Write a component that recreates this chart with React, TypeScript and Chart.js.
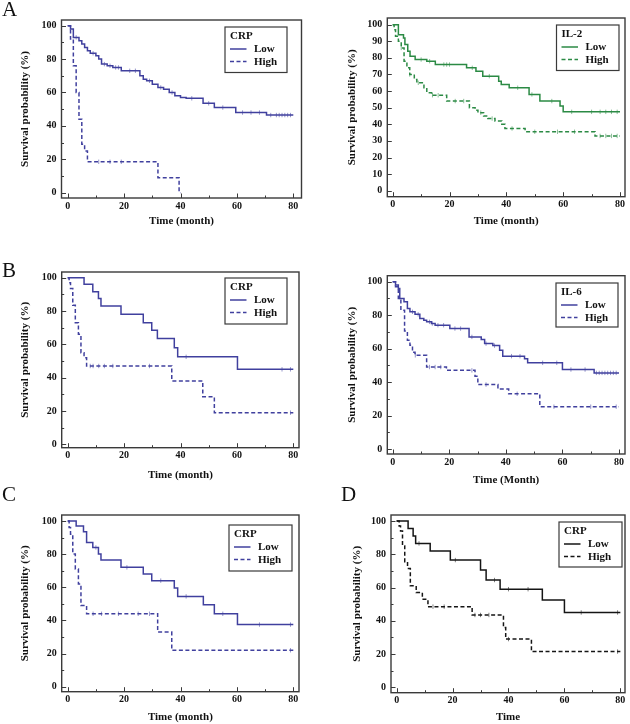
import { useEffect, useRef } from 'react';
import { Chart, registerables } from 'chart.js';

Chart.register(...registerables);

// ---------------- data ----------------
const xTickValues = [0, 20, 40, 60, 80];
const yTickValues = [0, 20, 40, 60, 80, 100];
const yTickValuesIL2 = [0, 10, 20, 30, 40, 50, 60, 70, 80, 90, 100];
const groupLabels = ['Low', 'High'];

// Panel A (left): CRP
const aCrpLowT = [0, 1, 2, 4, 5, 6, 7, 8, 10, 11, 12, 14, 16, 19, 25.6, 26.8, 28, 30, 32, 34, 36, 38, 40, 42, 48, 52, 59.6, 70.5, 80];
const aCrpLowS = [100, 98, 93, 91, 89, 87, 85, 83.5, 82, 80, 77, 76, 75, 73, 70, 68, 67, 65, 63, 62, 60, 58, 57, 56.5, 53.5, 51, 48, 46.5, 46.5];
const aCrpLowCens = [3, 9, 13, 15, 17, 18, 22, 24, 29, 33, 37, 44, 50, 55, 62, 65, 68, 72, 74, 75, 76, 77, 78, 79];
const aCrpHighT = [0, 1, 2, 3, 4, 5, 6, 7, 32, 39.5, 40];
const aCrpHighS = [100, 92, 76, 60, 44, 29, 25, 18.5, 9, 0, 0];
const aCrpHighCens = [11, 15, 19];

// Panel A (right): IL-2
const aIl2LowT = [0, 2, 3.8, 4.3, 5.3, 6.1, 7.9, 12, 15, 26, 29.3, 31.7, 37.3, 38.2, 41, 48, 51.8, 58.9, 60, 80];
const aIl2LowS = [100, 94, 92, 88, 84, 81, 79, 78, 76, 74, 72, 69, 66, 64, 62, 58, 54, 51, 47.5, 47.5];
const aIl2LowCens = [10, 13, 18, 19, 20, 28, 34, 44, 49, 56, 63, 70, 73, 75, 77, 79];
const aIl2HighT = [0, 0.5, 1, 2, 3, 4, 5, 6, 7.6, 8.5, 11, 12, 13.7, 19, 27, 29, 30, 32, 33.5, 36, 38.4, 39.5, 46.6, 71.2, 80];
const aIl2HighS = [100, 97, 93, 90, 86, 78, 74, 70, 67, 65, 62, 59, 57.5, 54, 50, 48.5, 47, 45, 43.5, 42, 40, 37.5, 35.5, 33, 33];
const aIl2HighCens = [3, 6, 9, 14, 16, 22, 25, 31, 35, 42, 50, 58, 64, 73, 75, 77, 79];

// Panel B (left): CRP
const bCrpLowT = [0, 5.8, 8.9, 10.9, 11.8, 18.9, 26.8, 29.8, 31.8, 37.8, 39, 60.2, 80];
const bCrpLowS = [100, 96, 91.5, 87.5, 83, 78, 73, 68.5, 63.5, 58, 52.5, 45, 45];
const bCrpLowCens = [42, 76, 79];
const bCrpHighT = [0, 0.5, 1, 1.8, 2.7, 3.8, 4.7, 5.8, 6.7, 36.9, 47.9, 52, 80];
const bCrpHighS = [100, 97, 93.5, 83.5, 73, 66, 55, 52, 47, 38, 28.5, 19, 19];
const bCrpHighCens = [8, 9, 11, 13, 16, 29, 79];

// Panel B (right): IL-6
const bIl6LowT = [0, 1, 2, 2.5, 4, 5.2, 6.1, 7.9, 9.6, 11, 12, 13.7, 15, 20.2, 27, 31.3, 32.5, 35.4, 37.8, 38.9, 46.6, 47.7, 60, 71.2, 80];
const bIl6LowS = [100, 98, 96, 90, 88, 84, 82, 80.5, 78, 77, 76, 75, 74, 72, 67, 65.5, 63, 61.8, 59, 55.5, 54, 51.5, 47.5, 45.5, 45.5];
const bIl6LowCens = [7, 9, 13, 14, 16, 18, 22, 24, 28, 33, 36, 42, 45, 53, 58, 63, 68, 72, 73, 74, 75, 76, 77, 78, 79];
const bIl6HighT = [0, 1, 2, 2.9, 4.2, 5.2, 6.1, 7, 7.9, 12, 19, 29.1, 30.1, 37.2, 41, 52, 80];
const bIl6HighS = [100, 97, 90, 83, 70.5, 65, 62, 57.8, 56, 49, 47, 43.5, 38.5, 35.8, 33, 25.3, 25.3];
const bIl6HighCens = [8, 13, 15, 17, 28, 33, 44, 57, 70, 79];

// Panel C: CRP
const cCrpLowT = [0, 3, 5.6, 6.7, 8.9, 10.9, 11.8, 18.9, 26.8, 29.8, 37.8, 39, 48.1, 52, 60.2, 80];
const cCrpLowS = [100, 97, 93.5, 87, 84, 80, 76.5, 72, 68, 64, 59.5, 54.5, 49.5, 44, 37.5, 37.5];
const cCrpLowCens = [10, 21, 33, 42, 55, 68, 79];
const cCrpHighT = [0, 0.5, 1, 1.8, 2.7, 3.8, 4.7, 6.7, 31.9, 36.9, 80];
const cCrpHighS = [100, 96, 92, 80, 71, 62, 49, 44, 33, 22, 22];
const cCrpHighCens = [9, 12, 18, 25, 29, 79];

// Panel D: CRP
const dCrpLowT = [0, 4.1, 5.9, 6.8, 12, 19.2, 30, 32, 37, 52.1, 60, 80];
const dCrpLowS = [100, 95.5, 91, 86.5, 82, 76.5, 70.5, 64.5, 59, 52.5, 45, 45];
const dCrpLowCens = [8, 21, 35, 40, 47, 66, 79];
const dCrpHighT = [0, 0.9, 1.4, 2.1, 2.9, 3.9, 4.9, 7, 9.2, 11.2, 27, 38.2, 39, 48.2, 80];
const dCrpHighS = [100, 97, 94, 85, 75.5, 71.5, 61, 57, 53, 48.5, 43.5, 36, 29, 21.5, 21.5];
const dCrpHighCens = [13, 17, 28, 30, 33, 40, 79];

// ---------------- styles / layout ----------------
const SERIF = '"Liberation Serif", "Times New Roman", serif';
const FRAME = '#3a3a3a';
const BLUE = '#40409e';
const GREEN = '#2b8a44';
const BLACK = '#151515';

type Spec = {
  id: string;
  legendTitle: string;
  xTitle: string;
  color: string;
  lowT: number[]; lowS: number[]; lowC: number[];
  highT: number[]; highS: number[]; highC: number[];
  yTicks: number[];
  canvas: [number, number, number, number];
  box: [number, number, number, number];
  xCal: [number, number];
  yCal: [number, number];
  yTitleX: number;
  xTitleY: number;
  legend: [number, number, number, number];
};

const panels: Spec[] = [
  {
    id: 'A1', legendTitle: 'CRP', xTitle: 'Time (month)', color: BLUE,
    lowT: aCrpLowT, lowS: aCrpLowS, lowC: aCrpLowCens, highT: aCrpHighT, highS: aCrpHighS, highC: aCrpHighCens,
    yTicks: yTickValues,
    canvas: [0, 8, 312, 224], box: [61.5, 20, 301.5, 198], xCal: [67.7, 293.3], yCal: [192.7, 25.7],
    yTitleX: 25, xTitleY: 221, legend: [225, 27, 62, 45.5],
  },
  {
    id: 'A2', legendTitle: 'IL-2', xTitle: 'Time (month)', color: GREEN,
    lowT: aIl2LowT, lowS: aIl2LowS, lowC: aIl2LowCens, highT: aIl2HighT, highS: aIl2HighS, highC: aIl2HighCens,
    yTicks: yTickValuesIL2,
    canvas: [318, 8, 312, 224], box: [387.3, 17.3, 625, 196.7], xCal: [392.7, 620], yCal: [190.7, 24],
    yTitleX: 351.7, xTitleY: 221, legend: [556.5, 25, 62.5, 45.5],
  },
  {
    id: 'B1', legendTitle: 'CRP', xTitle: 'Time (month)', color: BLUE,
    lowT: bCrpLowT, lowS: bCrpLowS, lowC: bCrpLowCens, highT: bCrpHighT, highS: bCrpHighS, highC: bCrpHighCens,
    yTicks: yTickValues,
    canvas: [0, 262, 312, 222], box: [61.7, 271, 299, 447.7], xCal: [67.7, 293.3], yCal: [444.3, 276.7],
    yTitleX: 25, xTitleY: 475, legend: [225, 278, 62, 46],
  },
  {
    id: 'B2', legendTitle: 'IL-6', xTitle: 'Time (Month)', color: BLUE,
    lowT: bIl6LowT, lowS: bIl6LowS, lowC: bIl6LowCens, highT: bIl6HighT, highS: bIl6HighS, highC: bIl6HighCens,
    yTicks: yTickValues,
    canvas: [318, 262, 312, 226], box: [387.3, 275.7, 626, 454], xCal: [392.7, 620], yCal: [449, 281.7],
    yTitleX: 351.7, xTitleY: 480, legend: [556, 283, 62, 44],
  },
  {
    id: 'C', legendTitle: 'CRP', xTitle: 'Time (month)', color: BLUE,
    lowT: cCrpLowT, lowS: cCrpLowS, lowC: cCrpLowCens, highT: cCrpHighT, highS: cCrpHighS, highC: cCrpHighCens,
    yTicks: yTickValues,
    canvas: [0, 505, 312, 219], box: [61.7, 513.3, 299, 691.7], xCal: [67.7, 293.3], yCal: [686.7, 519.3],
    yTitleX: 25, xTitleY: 717, legend: [229, 525, 63, 46],
  },
  {
    id: 'D', legendTitle: 'CRP', xTitle: 'Time', color: BLACK,
    lowT: dCrpLowT, lowS: dCrpLowS, lowC: dCrpLowCens, highT: dCrpHighT, highS: dCrpHighS, highC: dCrpHighCens,
    yTicks: yTickValues,
    canvas: [318, 505, 312, 219], box: [391, 514, 628, 692.7], xCal: [396.7, 623.3], yCal: [687.3, 520],
    yTitleX: 356.7, xTitleY: 717, legend: [559, 522, 63, 45],
  },
];

const letters = [
  { text: 'A', left: 2, top: -1 },
  { text: 'B', left: 2, top: 260 },
  { text: 'C', left: 2, top: 484 },
  { text: 'D', left: 341, top: 484 },
];

// ---------------- helpers ----------------
function stepValue(T: number[], S: number[], t: number) {
  let v = S[0];
  for (let i = 0; i < T.length; i++) if (T[i] <= t) v = S[i];
  return v;
}

function withAlpha(hex: string, a: number) {
  const n = parseInt(hex.slice(1), 16);
  return `rgba(${(n >> 16) & 255},${(n >> 8) & 255},${n & 255},${a})`;
}

const framePlugin = {
  id: 'kmFrame',
  beforeDatasetsDraw(chart: any) {
    const { ctx, chartArea: a, scales } = chart;
    ctx.save();
    ctx.strokeStyle = FRAME;
    ctx.lineWidth = 1.4;
    ctx.strokeRect(a.left, a.top, a.right - a.left, a.bottom - a.top);
    ctx.lineWidth = 1;
    const drawX = (v: number, len: number) => {
      const p = Math.round(scales.x.getPixelForValue(v)) + 0.5;
      ctx.beginPath(); ctx.moveTo(p, a.bottom); ctx.lineTo(p, a.bottom - len); ctx.stroke();
    };
    const drawY = (v: number, len: number) => {
      const p = Math.round(scales.y.getPixelForValue(v)) + 0.5;
      ctx.beginPath(); ctx.moveTo(a.left, p); ctx.lineTo(a.left + len, p); ctx.stroke();
    };
    const xv = scales.x.ticks.map((t: any) => t.value);
    xv.forEach((v: number, i: number) => {
      drawX(v, 4.5);
      if (i > 0) drawX((v + xv[i - 1]) / 2, 2.5);
    });
    const yv = scales.y.ticks.map((t: any) => t.value);
    yv.forEach((v: number, i: number) => {
      drawY(v, 4.5);
      if (i > 0 && v - yv[i - 1] > 10) drawY((v + yv[i - 1]) / 2, 2.5);
    });
    ctx.restore();
  },
};

const legendPlugin = {
  id: 'kmLegend',
  afterDraw(chart: any, _args: any, opts: any) {
    const [bx, by, bw, bh] = opts.box;
    const ctx = chart.ctx;
    ctx.save();
    ctx.fillStyle = '#ffffff';
    ctx.fillRect(bx, by, bw, bh);
    ctx.strokeStyle = FRAME;
    ctx.lineWidth = 1.2;
    ctx.strokeRect(bx, by, bw, bh);
    ctx.font = `bold 11px ${SERIF}`;
    ctx.fillStyle = '#111';
    ctx.textBaseline = 'middle';
    ctx.textAlign = 'left';
    ctx.fillText(opts.title, bx + 5, by + 9.5);
    chart.data.datasets.slice(0, 2).forEach((ds: any, i: number) => {
      const cy = by + 22 + i * 12.5;
      ctx.strokeStyle = ds.borderColor;
      ctx.lineWidth = ds.borderWidth;
      ctx.setLineDash(ds.borderDash || []);
      ctx.beginPath();
      ctx.moveTo(bx + 5, cy);
      ctx.lineTo(bx + 21.5, cy);
      ctx.stroke();
      ctx.setLineDash([]);
      ctx.fillStyle = '#111';
      ctx.fillText(ds.label, bx + 29, cy + 0.5);
    });
    ctx.restore();
  },
};

function buildConfig(s: Spec): any {
  const [cl, ct, cw, ch] = s.canvas;
  const [L, T, R, B] = s.box;
  const titleLH = 13.2;
  const padLeft = s.yTitleX - cl - titleLH / 2;
  const yAxisWidth = L - cl - padLeft;
  const padTop = T - ct;
  const padRight = cl + cw - R;
  const padBottom = ct + ch - s.xTitleY - titleLH / 2;
  const xAxisHeight = ct + ch - padBottom - B;

  const pxX = (s.xCal[1] - s.xCal[0]) / 80;
  const xMin = (L - s.xCal[0]) / pxX;
  const xMax = 80 + (R - s.xCal[1]) / pxX;
  const pxY = (s.yCal[0] - s.yCal[1]) / 100;
  const yMax = 100 + (s.yCal[1] - T) / pxY;
  const yMin = -(B - s.yCal[0]) / pxY;

  const curve = (Tt: number[], Ss: number[]) => Tt.map((t, i) => ({ x: t, y: Ss[i] }));
  const cens = (Tt: number[], Ss: number[], C: number[]) => C.map((t) => ({ x: t, y: stepValue(Tt, Ss, t) }));

  const tickFont = { family: SERIF, size: 10, weight: 'bold' as const, lineHeight: 1 };
  const titleFont = { family: SERIF, size: 11, weight: 'bold' as const, lineHeight: 1.2 };

  return {
    type: 'line',
    data: {
      datasets: [
        {
          label: groupLabels[0], data: curve(s.lowT, s.lowS), stepped: true,
          borderColor: s.color, borderWidth: 1.5, pointRadius: 0, fill: false,
        },
        {
          label: groupLabels[1], data: curve(s.highT, s.highS), stepped: true,
          borderColor: s.color, borderWidth: 1.5, borderDash: [4, 2.5], pointRadius: 0, fill: false,
        },
        {
          label: 'Low censored', data: cens(s.lowT, s.lowS, s.lowC), showLine: false,
          pointStyle: 'line', rotation: 90, pointRadius: 2.2, pointBorderWidth: 1,
          borderColor: withAlpha(s.color, 0.55), backgroundColor: withAlpha(s.color, 0.55),
        },
        {
          label: 'High censored', data: cens(s.highT, s.highS, s.highC), showLine: false,
          pointStyle: 'line', rotation: 90, pointRadius: 2.2, pointBorderWidth: 1,
          borderColor: withAlpha(s.color, 0.55), backgroundColor: withAlpha(s.color, 0.55),
        },
      ],
    },
    options: {
      animation: false,
      responsive: false,
      maintainAspectRatio: false,
      events: [],
      layout: { padding: { left: padLeft, top: padTop, right: padRight, bottom: padBottom } },
      plugins: {
        legend: { display: false },
        tooltip: { enabled: false },
        kmLegend: { box: [s.legend[0] - cl, s.legend[1] - ct, s.legend[2], s.legend[3]], title: s.legendTitle },
      },
      scales: {
        x: {
          type: 'linear', min: xMin, max: xMax,
          grid: { display: false, drawTicks: false },
          border: { display: false },
          afterBuildTicks: (sc: any) => { sc.ticks = xTickValues.map((v) => ({ value: v })); },
          afterFit: (sc: any) => { sc.height = xAxisHeight; },
          ticks: { autoSkip: false, maxRotation: 0, padding: 3, color: '#111', font: tickFont },
          title: { display: true, text: s.xTitle, color: '#111', font: titleFont, padding: 0 },
        },
        y: {
          type: 'linear', min: yMin, max: yMax,
          grid: { display: false, drawTicks: false },
          border: { display: false },
          afterBuildTicks: (sc: any) => { sc.ticks = s.yTicks.map((v) => ({ value: v })); },
          afterFit: (sc: any) => { sc.width = yAxisWidth; },
          ticks: { autoSkip: false, padding: 5, color: '#111', font: tickFont },
          title: { display: true, text: 'Survival probability (%)', color: '#111', font: titleFont, padding: 0 },
        },
      },
    },
    plugins: [framePlugin, legendPlugin],
  };
}

function KMPanel({ spec }: { spec: Spec }) {
  const ref = useRef<HTMLCanvasElement>(null);
  useEffect(() => {
    if (!ref.current) return;
    const chart = new Chart(ref.current, buildConfig(spec));
    return () => chart.destroy();
  }, [spec]);
  const [cl, ct, cw, ch] = spec.canvas;
  return (
    <canvas
      ref={ref}
      width={cw}
      height={ch}
      style={{ position: 'absolute', left: cl, top: ct, width: cw, height: ch }}
    />
  );
}

export default function App() {
  return (
    <div style={{ position: 'absolute', left: 0, top: 0, width: 630, height: 724, background: '#fff', overflow: 'hidden' }}>
      {panels.map((p) => (
        <KMPanel key={p.id} spec={p} />
      ))}
      {letters.map((l) => (
        <div
          key={l.text}
          style={{
            position: 'absolute', left: l.left, top: l.top, fontFamily: SERIF,
            fontSize: 21, lineHeight: 1, color: '#111',
          }}
        >
          {l.text}
        </div>
      ))}
    </div>
  );
}
